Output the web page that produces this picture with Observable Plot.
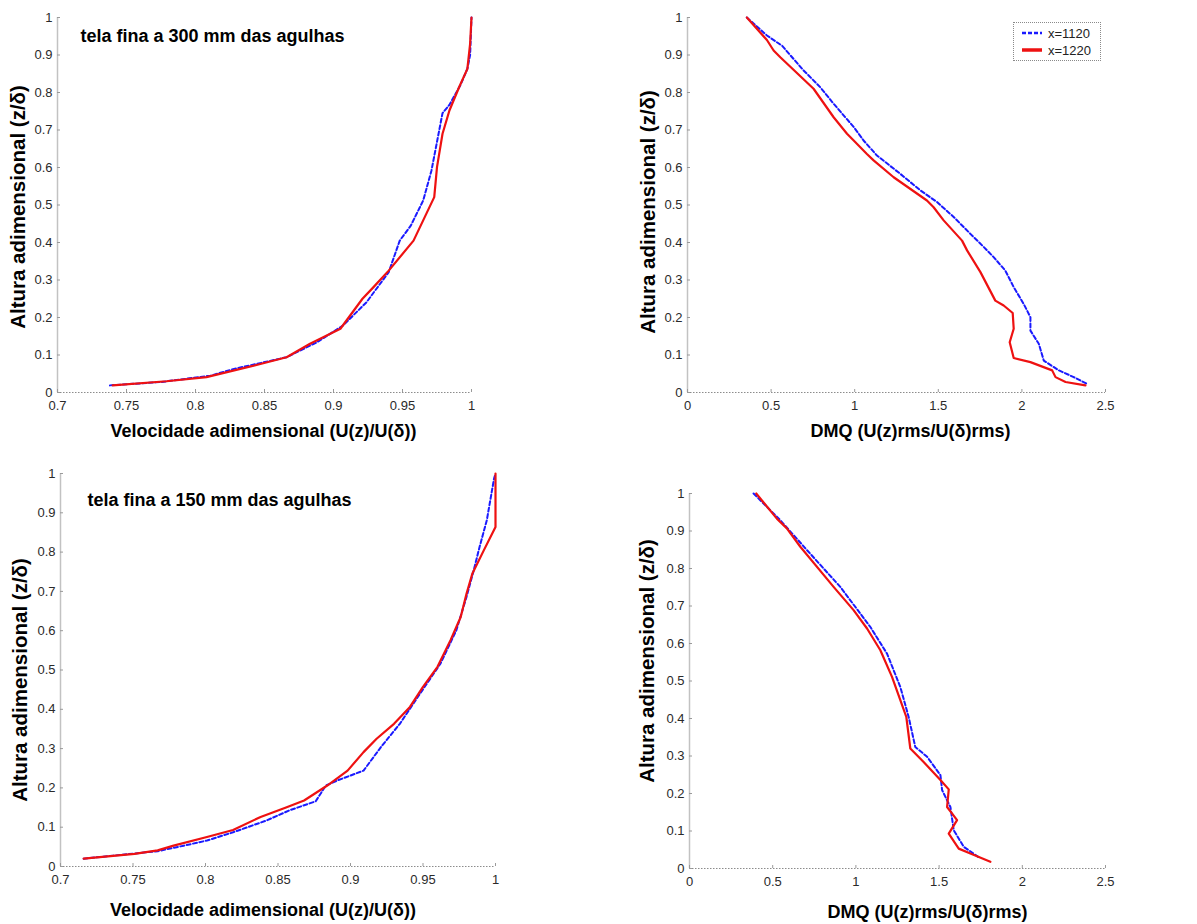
<!DOCTYPE html>
<html>
<head>
<meta charset="utf-8">
<script src="https://cdn.jsdelivr.net/npm/d3@7"></script>
<script src="https://cdn.jsdelivr.net/npm/@observablehq/plot@0.6"></script>
<style>
  body { margin: 0; background: #fff; }
  #root { position: relative; width: 1197px; height: 924px; overflow: hidden; font-family: "Liberation Sans", Arial, sans-serif; background: #fff; }
  .panel { position: absolute; }
  .legend { position: absolute; left: 1013px; top: 22px; width: 88px; height: 39px; border: 1px dotted #8a8a8a; background: #fff; font-size: 13px; color: #222; box-sizing: border-box; }
  .legend .row { position: absolute; left: 0; height: 16px; display: flex; align-items: center; }
  .legend svg { display: block; margin-left: 8px; margin-right: 6px; }
</style>
</head>
<body>
<div id="root"></div>
<script>
// ---------- data ----------
const seriesNames = ["x=1120", "x=1220"];
const zTicks = [0, 0.1, 0.2, 0.3, 0.4, 0.5, 0.6, 0.7, 0.8, 0.9, 1];
const velTicks = [0.7, 0.75, 0.8, 0.85, 0.9, 0.95, 1];
const dmqTicks = [0, 0.5, 1, 1.5, 2, 2.5];
const titles = ["tela fina a 300 mm das agulhas", "tela fina a 150 mm das agulhas"];
const velLabel = "Velocidade adimensional (U(z)/U(δ))";
const dmqLabel = "DMQ (U(z)rms/U(δ)rms)";
const zLabel = "Altura adimensional (z/δ)";

// [value, z/δ]
const topVel1120 = [[0.738,0.019],[0.775,0.028],[0.811,0.045],[0.828,0.063],[0.866,0.094],[0.888,0.134],[0.907,0.179],[0.924,0.241],[0.940,0.321],[0.948,0.405],[0.956,0.445],[0.965,0.512],[0.971,0.592],[0.979,0.745],[0.984,0.767],[0.992,0.820],[0.997,0.863],[0.999,0.900],[1.0,1.0]];
const topVel1220 = [[0.740,0.019],[0.779,0.030],[0.808,0.041],[0.847,0.076],[0.866,0.094],[0.883,0.130],[0.905,0.170],[0.921,0.250],[0.929,0.281],[0.940,0.325],[0.958,0.405],[0.973,0.521],[0.975,0.601],[0.979,0.690],[0.984,0.752],[0.991,0.814],[0.997,0.863],[0.999,0.930],[1.0,1.0]];
const topDmq1120 = [[0.355,1.0],[0.475,0.952],[0.565,0.925],[0.694,0.859],[0.794,0.814],[0.874,0.770],[0.994,0.708],[1.053,0.672],[1.133,0.632],[1.273,0.583],[1.393,0.539],[1.492,0.508],[1.592,0.468],[1.692,0.423],[1.772,0.388],[1.831,0.361],[1.901,0.325],[1.951,0.281],[2.011,0.236],[2.051,0.201],[2.051,0.165],[2.101,0.130],[2.131,0.085],[2.221,0.059],[2.310,0.041],[2.390,0.023]];
const topDmq1220 = [[0.355,1.0],[0.475,0.940],[0.515,0.912],[0.555,0.894],[0.754,0.810],[0.874,0.734],[0.954,0.690],[0.994,0.672],[1.073,0.636],[1.113,0.619],[1.233,0.574],[1.432,0.512],[1.472,0.494],[1.532,0.459],[1.642,0.405],[1.672,0.379],[1.752,0.321],[1.841,0.245],[1.891,0.232],[1.945,0.212],[1.951,0.170],[1.927,0.134],[1.951,0.092],[2.051,0.081],[2.181,0.059],[2.201,0.041],[2.261,0.028],[2.380,0.019]];
const botVel1120 = [[0.716,0.020],[0.767,0.039],[0.785,0.053],[0.801,0.066],[0.819,0.087],[0.842,0.117],[0.858,0.143],[0.876,0.166],[0.883,0.206],[0.891,0.219],[0.909,0.244],[0.921,0.304],[0.934,0.363],[0.948,0.440],[0.962,0.516],[0.973,0.601],[0.980,0.686],[0.985,0.754],[0.989,0.813],[0.994,0.881],[0.999,0.987],[1.0,1.0]];
const botVel1220 = [[0.716,0.020],[0.751,0.032],[0.767,0.041],[0.778,0.053],[0.801,0.075],[0.819,0.093],[0.838,0.126],[0.856,0.151],[0.868,0.168],[0.884,0.206],[0.898,0.244],[0.909,0.291],[0.918,0.325],[0.930,0.363],[0.941,0.406],[0.950,0.457],[0.960,0.508],[0.969,0.576],[0.976,0.635],[0.980,0.694],[0.984,0.745],[0.992,0.805],[1.0,0.864],[1.0,1.0]];
const botDmq1120 = [[0.385,1.0],[0.545,0.929],[0.706,0.849],[0.906,0.751],[1.087,0.644],[1.187,0.573],[1.267,0.484],[1.317,0.404],[1.357,0.324],[1.428,0.298],[1.508,0.249],[1.518,0.209],[1.568,0.164],[1.588,0.102],[1.648,0.058],[1.748,0.027]];
const botDmq1220 = [[0.401,1.0],[0.525,0.933],[0.585,0.907],[0.666,0.858],[0.866,0.751],[0.986,0.689],[1.067,0.640],[1.147,0.582],[1.217,0.511],[1.267,0.449],[1.303,0.404],[1.327,0.320],[1.407,0.284],[1.508,0.236],[1.558,0.211],[1.548,0.164],[1.608,0.129],[1.558,0.093],[1.618,0.053],[1.688,0.040],[1.808,0.018]];

// ---------- styles ----------
const FONT = '"Liberation Sans", Arial, Helvetica, sans-serif';
const BLUE = "#1a1aff";
const RED = "#ee1111";
const fmt = d => String(d);

function toRows(pairs, serie) { return pairs.map(([x, z]) => ({x, z, serie})); }

function makePanel(cfg) {
  const [mt, mr, mb, ml] = cfg.m;
  const marks = [
    Plot.ruleX([cfg.xDomain[0]], {stroke: "#c2c2c2", strokeWidth: 1.5}),
    Plot.ruleY([0], {stroke: "#8c8c8c", strokeDasharray: "1.5,1.5"}),
    Plot.axisY({ticks: zTicks, tickFormat: fmt, tickSize: -3, tickPadding: 8, stroke: "#9a9a9a", fill: "#2a2a2a", label: null}),
    Plot.axisX({ticks: cfg.xTicks, tickFormat: fmt, tickSize: -3, tickPadding: 11, stroke: "#9a9a9a", fill: "#2a2a2a", label: null}),
    Plot.line(toRows(cfg.s1120, seriesNames[0]), {x: "x", y: "z", stroke: BLUE, strokeWidth: 2, strokeDasharray: "4,2.5"}),
    Plot.line(toRows(cfg.s1220, seriesNames[1]), {x: "x", y: "z", stroke: RED, strokeWidth: 2.2}),
    Plot.text([cfg.xLabel], {frameAnchor: "bottom", dx: cfg.xl[0], dy: cfg.xl[1], textAnchor: "middle", lineAnchor: "middle", fontSize: 18, fontWeight: "bold", fill: "#000"}),
    Plot.text([zLabel], {frameAnchor: "left", rotate: -90, dx: cfg.yl[0], dy: cfg.yl[1], textAnchor: "middle", lineAnchor: "middle", fontSize: 20.5, fontWeight: "bold", fill: "#000"})
  ];
  if (cfg.title) {
    marks.push(Plot.text([cfg.title], {frameAnchor: "top-left", dx: cfg.tl[0], dy: cfg.tl[1], textAnchor: "start", lineAnchor: "middle", fontSize: 18, fontWeight: "bold", fill: "#000"}));
  }
  const p = Plot.plot({
    width: cfg.w, height: cfg.h,
    marginTop: mt, marginRight: mr, marginBottom: mb, marginLeft: ml,
    x: {domain: cfg.xDomain},
    y: {domain: [0, 1]},
    style: {fontFamily: FONT, fontSize: "13px", background: "transparent", overflow: "visible", color: "#222"},
    marks
  });
  const div = document.createElement("div");
  div.className = "panel";
  div.style.left = cfg.left + "px";
  div.style.top = cfg.top + "px";
  div.appendChild(p);
  document.getElementById("root").appendChild(div);
}

makePanel({left: 0, top: 0, w: 600, h: 460, m: [17, 129, 68, 57], xDomain: [0.7, 1], xTicks: velTicks,
  s1120: topVel1120, s1220: topVel1220, xLabel: velLabel, xl: [-1, 39], yl: [-39, 2], title: titles[0], tl: [23, 19]});
makePanel({left: 600, top: 0, w: 597, h: 460, m: [17, 92, 68, 87], xDomain: [0, 2.5], xTicks: dmqTicks,
  s1120: topDmq1120, s1220: topDmq1220, xLabel: dmqLabel, xl: [14, 39], yl: [-39, 7]});
makePanel({left: 0, top: 460, w: 600, h: 464, m: [13, 105, 58, 60], xDomain: [0.7, 1], xTicks: velTicks,
  s1120: botVel1120, s1220: botVel1220, xLabel: velLabel, xl: [-15, 44], yl: [-40, 10], title: titles[1], tl: [27, 27]});
makePanel({left: 600, top: 460, w: 597, h: 464, m: [33, 92, 56, 89], xDomain: [0, 2.5], xTicks: dmqTicks,
  s1120: botDmq1120, s1220: botDmq1220, xLabel: dmqLabel, xl: [30, 44], yl: [-42, -20]});

// legend (inside top-right panel)
const legend = document.createElement("div");
legend.className = "legend";
const legendStyles = [{stroke: BLUE, width: 2.5, dash: "4,2"}, {stroke: RED, width: 3.5, dash: null}];
seriesNames.forEach((name, i) => {
  const row = document.createElement("div");
  row.className = "row";
  row.style.top = (2 + i * 17) + "px";
  const st = legendStyles[i];
  row.innerHTML = `<svg width="20" height="8"><line x1="0" x2="20" y1="4" y2="4" stroke="${st.stroke}" stroke-width="${st.width}" ${st.dash ? `stroke-dasharray="${st.dash}"` : ""}/></svg><span>${name}</span>`;
  legend.appendChild(row);
});
document.getElementById("root").appendChild(legend);
</script>
</body>
</html>
